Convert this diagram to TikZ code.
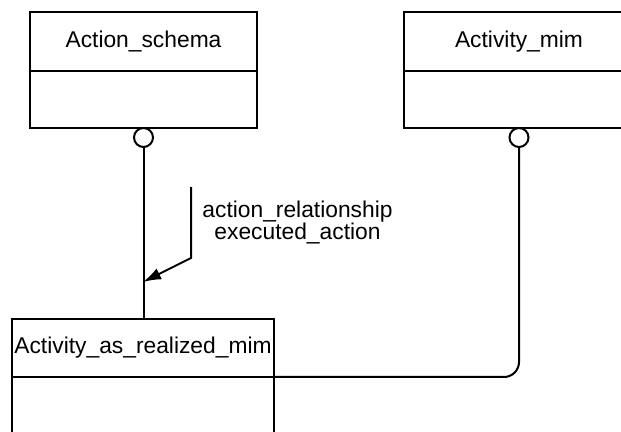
\documentclass[tikz,border=0pt]{standalone}
\usepackage{fontspec}
\setmainfont{Liberation Sans}
\usetikzlibrary{positioning,arrows.meta}

\begin{document}
\begin{tikzpicture}[x=0.5pt, y=-0.5pt,
    line width=1pt,
    font=\fontsize{11.4}{11}\selectfont,
    every node/.style={outer sep=0pt, inner sep=0pt},
    classhead/.style={draw, minimum height=29.5pt},
    classbody/.style={draw, minimum height=28.5pt},
    ring/.style={draw, circle, minimum size=9.5pt}]

   \useasboundingbox (0,0) rectangle (621,432);

   \node[classhead,
         minimum width=113.5pt] (schema) at (143.5,41.5) {Action\_schema};
   \node[classbody,
         minimum width=113.5pt,
         below=0pt of schema] (schemabody) {};
   \node[ring,
         below=0pt of schemabody] (ringa) {};

   \node[classhead,
         minimum width=115pt] (mim) at (519,41.5) {Activity\_mim};
   \node[classbody,
         minimum width=115pt,
         below=0pt of mim] (mimbody) {};
   \node[ring,
         below=0pt of mimbody] (ringb) {};

   \node[classhead,
         minimum width=131pt,
         minimum height=29pt] (realized) at (143,348) {Activity\_as\_realized\_mim};
   \node[draw,
         minimum width=131pt,
         minimum height=41.5pt,
         below=0pt of realized] (realizedbody) {};

   \node[align=center,
         anchor=north] (role) at (297.5,201) {action\_relationship\\executed\_action};

   \coordinate (arrtop) at (191,187);
   \coordinate (arrbend) at (191,258);
   \coordinate (arrtip) at (143,282);

   % Connect the classes
   \draw (ringa.south) -- (ringa.south |- realized.north);
   \draw[rounded corners=7.5pt] (ringb.south) |- (realized.south east);
   \draw[-{Latex[length=9pt,width=6pt]}] (arrtop) -- (arrbend) -- (arrtip);
\end{tikzpicture}
\end{document}
